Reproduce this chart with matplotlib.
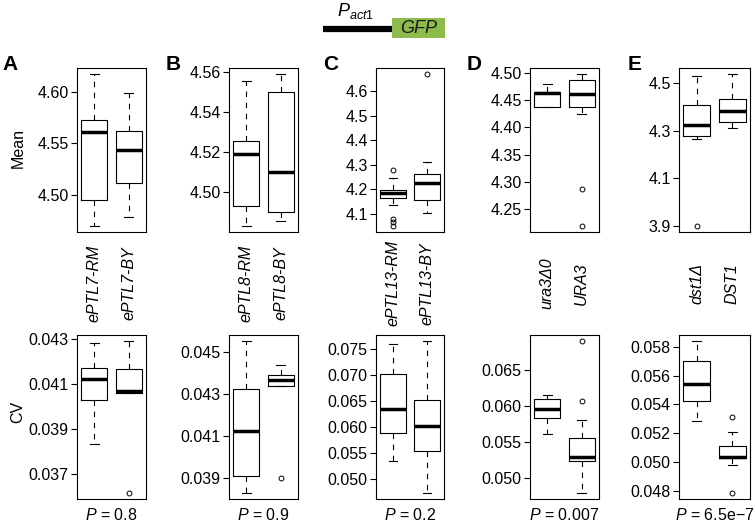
import matplotlib
matplotlib.use("Agg")
import matplotlib.pyplot as plt
from matplotlib.patches import Rectangle

plt.rcParams['font.family'] = ['Liberation Sans', 'DejaVu Sans']
plt.rcParams['mathtext.fontset'] = 'custom'
plt.rcParams['mathtext.it'] = 'Liberation Sans:italic'
plt.rcParams['mathtext.rm'] = 'Liberation Sans'

# box summaries, each row: whislo, q1, median, q3, whishi
mean_a = [[4.4696, 4.495, 4.5608, 4.5725, 4.617], [4.478, 4.5115, 4.5435, 4.562, 4.599]]
mean_b = [[4.483, 4.4928, 4.519, 4.5254, 4.5551], [4.4857, 4.4901, 4.5097, 4.5501, 4.5588]]
mean_c = [[4.136, 4.166, 4.1835, 4.1975, 4.245], [4.104, 4.156, 4.225, 4.262, 4.31]]
mean_d = [[4.438, 4.438, 4.463, 4.465, 4.4796], [4.425, 4.437, 4.4616, 4.4875, 4.4987]]
mean_e = [[4.2659, 4.277, 4.3238, 4.4106, 4.5323], [4.3128, 4.338, 4.382, 4.436, 4.539]]

out_mean_a = [[], []]
out_mean_b = [[], []]
out_mean_c = [[4.28, 4.081, 4.067, 4.051], [4.669]]
out_mean_d = [[], [4.286, 4.218]]
out_mean_e = [[3.9], []]

cv_a = [[0.03835, 0.04027, 0.04122, 0.04172, 0.04281], [0.04058, 0.04058, 0.04071, 0.04166, 0.04291]]
cv_b = [[0.0383, 0.03908, 0.04125, 0.04324, 0.0455], [0.04335, 0.04335, 0.04367, 0.04389, 0.04436]]
cv_c = [[0.05358, 0.05892, 0.06342, 0.07031, 0.07597], [0.04734, 0.05551, 0.06033, 0.06516, 0.0766]]
cv_d = [[0.0561, 0.05842, 0.05958, 0.06097, 0.06157], [0.048, 0.05249, 0.053, 0.05555, 0.05809]]
cv_e = [[0.05287, 0.05421, 0.05541, 0.05704, 0.0584], [0.04976, 0.05027, 0.05032, 0.05114, 0.05211]]

out_cv_a = [[], [0.03616]]
out_cv_b = [[], [0.0390]]
out_cv_c = [[], []]
out_cv_d = [[], [0.06073, 0.06903]]
out_cv_e = [[], [0.0531, 0.04785]]

group_labels = [["ePTL7-RM", "ePTL7-BY"], ["ePTL8-RM", "ePTL8-BY"], ["ePTL13-RM", "ePTL13-BY"],
                ["ura3\u03940", "URA3"], ["dst1\u0394", "DST1"]]
panel_letters = ["A", "B", "C", "D", "E"]
p_values = ["0.8", "0.9", "0.2", "0.007", "6.5e\u22127"]

mean_ticks = [[4.50, 4.55, 4.60], [4.50, 4.52, 4.54, 4.56], [4.1, 4.2, 4.3, 4.4, 4.5, 4.6],
              [4.25, 4.30, 4.35, 4.40, 4.45, 4.50], [3.9, 4.1, 4.3, 4.5]]
mean_fmt = ["%.2f", "%.2f", "%.1f", "%.2f", "%.1f"]
cv_ticks = [[0.037, 0.039, 0.041, 0.043], [0.039, 0.041, 0.043, 0.045],
            [0.050, 0.055, 0.060, 0.065, 0.070, 0.075], [0.050, 0.055, 0.060, 0.065],
            [0.048, 0.050, 0.052, 0.054, 0.056, 0.058]]

mean_sets = [mean_a, mean_b, mean_c, mean_d, mean_e]
mean_outs = [out_mean_a, out_mean_b, out_mean_c, out_mean_d, out_mean_e]
cv_sets = [cv_a, cv_b, cv_c, cv_d, cv_e]
cv_outs = [out_cv_a, out_cv_b, out_cv_c, out_cv_d, out_cv_e]

W, H = 755, 527
fig = plt.figure(figsize=(W / 100, H / 100), dpi=100)

# layout in pixels
lefts = [77, 229, 376, 530, 679]
widths = [69, 69, 68, 69, 71]
letter_x = [2, 166, 323, 467, 628]


def make_stats(rows, outs):
    stats = []
    for r, o in zip(rows, outs):
        stats.append(dict(whislo=r[0], q1=r[1], med=r[2], q3=r[3], whishi=r[4], fliers=o))
    return stats


def draw_box(ax, rows, outs, ticks, fmt):
    ax.bxp(make_stats(rows, outs), positions=[1, 2], widths=0.75, capwidths=0.25,
           boxprops=dict(color='black', lw=0.8),
           whiskerprops=dict(color='black', lw=0.8, linestyle=(0, (5, 5))),
           capprops=dict(color='black', lw=0.8),
           medianprops=dict(color='black', lw=2.5, solid_capstyle='butt'),
           flierprops=dict(marker='o', markersize=3.5, markerfacecolor='none',
                           markeredgecolor='black', markeredgewidth=0.7))
    vals = [v for r in rows for v in r] + [v for o in outs for v in o]
    lo, hi = min(vals), max(vals)
    pad = (hi - lo) * 0.04
    ax.set_ylim(lo - pad, hi + pad)
    ax.set_xlim(0.5, 2.5)
    ax.set_yticks(ticks)
    ax.set_yticklabels([fmt % t for t in ticks])
    ax.tick_params(axis='y', length=4, width=0.8, pad=2, labelsize=11.5)
    for s in ax.spines.values():
        s.set_linewidth(0.8)


for i in range(5):
    axt = fig.add_axes([lefts[i] / W, 1 - 232 / H, widths[i] / W, 164 / H])
    draw_box(axt, mean_sets[i], mean_outs[i], mean_ticks[i], mean_fmt[i])
    axt.set_xticks([1, 2])
    axt.set_xticklabels(group_labels[i], rotation=90, style='italic', fontsize=11.5,
                        va='center', ha='center')
    axt.tick_params(axis='x', length=0, pad=37)

    axb = fig.add_axes([lefts[i] / W, 1 - 499 / H, widths[i] / W, 164 / H])
    draw_box(axb, cv_sets[i], cv_outs[i], cv_ticks[i], "%.3f")
    axb.set_xticks([])
    axb.text(0.5, -0.1, r"$P$ = " + p_values[i], transform=axb.transAxes,
             ha='center', va='center', fontsize=11.5)

    fig.text(letter_x[i] / W, 1 - 70 / H, panel_letters[i], fontsize=15,
             fontweight='bold', va='baseline', ha='left')

fig.text(18 / W, 1 - 148 / H, "Mean", rotation=90, ha='center', va='center', fontsize=11.5)
fig.text(18 / W, 1 - 412 / H, "CV", rotation=90, ha='center', va='center', fontsize=11.5)

# construct sketch at the top
hax = fig.add_axes([0, 0, 1, 1])
hax.set_xlim(0, W)
hax.set_ylim(H, 0)
hax.axis('off')
hax.plot([323, 392], [29, 29], color='black', lw=4.5, solid_capstyle='butt')
hax.add_patch(Rectangle((392, 18), 53, 20, facecolor='#8dbb4c', edgecolor='none'))
hax.text(419, 28.5, "GFP", style='italic', fontsize=13, ha='center', va='center', color='#1a1a1a')
hax.text(337, 16, r"$P_{act1}$", fontsize=13, ha='left', va='baseline')

fig.savefig("out.png", dpi=100)
